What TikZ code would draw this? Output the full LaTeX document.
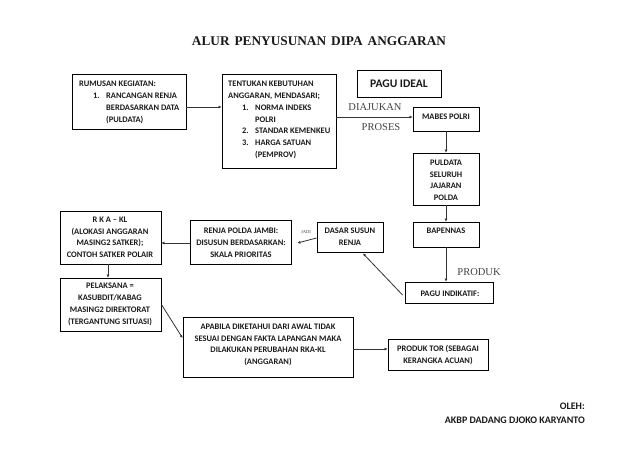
\documentclass[tikz,border=0pt]{standalone}
\usepackage{fontspec}
\setmainfont{Carlito}
\newfontfamily\seriffam{Liberation Serif}
\usetikzlibrary{arrows.meta}
\tikzset{
  boxnode/.style={draw=black,line width=0.9pt,rectangle,inner sep=0pt,minimum width=#1},
  tx/.style={inner sep=0pt,font=\fontsize{8.45}{11.9}\selectfont\bfseries,text=black!90},
  ctr/.style={tx,align=center,anchor=north,yshift=-4pt},
  lft/.style={tx,align=left,anchor=north west,yshift=-4pt},
  ser/.style={inner sep=0pt,font=\fontsize{10.5}{12}\selectfont\seriffam,text=black!75},
  link/.style={draw=black!80,line width=0.8pt,-{Latex[length=3pt,width=3pt]}}
}
\newcommand{\bx}[5]{\node[boxnode=#4-#2 pt,minimum height=#5-#3 pt] (#1) at ({(#2+#4)/2},{(#3+#5)/2}) {};}
\begin{document}
\begin{tikzpicture}[x=1pt,y=-1pt]
\useasboundingbox (0,0) rectangle (638,452);
\bx{rumusan}{72}{74}{186}{129}
\bx{tentukan}{222}{74}{336}{168}
\bx{ideal}{357}{70}{441}{97}
\bx{mabes}{413}{107}{479}{131}
\bx{puldata}{413}{153}{479}{205}
\bx{bapennas}{413}{222}{479}{247}
\bx{indikatif}{405}{282}{493}{303}
\bx{dasar}{317}{222}{383}{252}
\bx{renja}{190}{220}{291}{264}
\bx{rka}{60}{211}{161}{264}
\bx{pelaksana}{60}{278}{161}{331}
\bx{apabila}{183}{317}{353}{377}
\bx{produktor}{388}{339}{488}{370}

\node[inner sep=0pt,font=\fontsize{13.3}{14}\selectfont\seriffam\bfseries,text=black!90] (title) at (319,41) {ALUR\hspace{5pt}PENYUSUNAN\hspace{5pt}DIPA\hspace{5pt}ANGGARAN};

\node[lft] (t1) at (79,76.5) {RUMUSAN KEGIATAN:};
\node[lft] (t1a) at (93,88.5) {1.};
\node[lft] (t1b) at (106,88.5) {RANCANGAN RENJA\\BERDASARKAN DATA\\(PULDATA)};
\node[lft] (t2) at (228,76.5) {TENTUKAN KEBUTUHAN\\ANGGARAN, MENDASARI;};
\node[lft] (t2a) at (242,100.5) {1.};
\node[lft] (t2b) at (255,100.5) {NORMA INDEKS\\POLRI};
\node[lft] (t2c) at (242,124) {2.};
\node[lft] (t2d) at (255,124) {STANDAR KEMENKEU};
\node[lft] (t2e) at (242,135.5) {3.};
\node[lft] (t2f) at (255,135.5) {HARGA SATUAN\\(PEMPROV)};
\node[inner sep=0pt,font=\fontsize{11.6}{12}\selectfont\bfseries,text=black!90] (t3) at (399,84) {PAGU IDEAL};
\node[ctr] (t4) at (446,109.5) {MABES POLRI};
\node[ctr] (t5) at (446,155.5) {PULDATA\\SELURUH\\JAJARAN\\POLDA};
\node[ctr] (t6) at (446,224) {BAPENNAS};
\node[ctr] (t7) at (450,287) {PAGU INDIKATIF:};
\node[ctr] (t8) at (350,224) {DASAR SUSUN\\RENJA};
\node[ctr] (t9) at (241,223.5) {RENJA POLDA JAMBI:\\DISUSUN BERDASARKAN:\\SKALA PRIORITAS};
\node[ctr] (t10) at (110,212.5) {R K A -- KL\\(ALOKASI ANGGARAN\\MASING2 SATKER);\\CONTOH SATKER POLAIR};
\node[ctr] (t11) at (110,279) {PELAKSANA =\\KASUBDIT/KABAG\\MASING2 DIREKTORAT\\(TERGANTUNG SITUASI)};
\node[ctr] (t12) at (268,319.5) {APABILA DIKETAHUI DARI AWAL TIDAK\\SESUAI DENGAN FAKTA LAPANGAN MAKA\\DILAKUKAN PERUBAHAN RKA-KL\\(ANGGARAN)};
\node[ctr] (t13) at (438,341.5) {PRODUK TOR (SEBAGAI\\KERANGKA ACUAN)};
\node[inner sep=0pt,font=\fontsize{10}{14}\selectfont\bfseries,text=black!90,align=right,anchor=north east] (t14) at (585,403) {OLEH:\\AKBP DADANG DJOKO KARYANTO};

\node[ser] (diajukan) at (375,107) {DIAJUKAN};
\node[ser] (proses) at (381,127) {PROSES};
\node[ser] (produk) at (479,272) {PRODUK};
\node[inner sep=0pt,font=\fontsize{4.5}{5}\selectfont\seriffam,text=black!75] (jadi) at (306,232) {JADI};

\draw[link] ([yshift=-5.5pt]rumusan.east) -- ([yshift=14pt]tentukan.west);
\draw[link] ([yshift=4pt]tentukan.east) -- ([yshift=2pt]mabes.west);
\draw[link] (mabes.south) -- (puldata.north);
\draw[link] (puldata.south) -- (bapennas.north);
\draw[link] (bapennas.south) -- (bapennas.south |- indikatif.north);
\draw[link] ([xshift=-2pt,yshift=-2.5pt]indikatif.west) -- ([xshift=13pt,yshift=-1pt]dasar.south);
\draw[link] ([yshift=-1pt]dasar.west) -- ([xshift=6pt,yshift=-1pt]renja.east);
\draw[link] ([yshift=-1pt]renja.west) -- ([yshift=-1pt]renja.west -| rka.east);
\draw[link] ([xshift=-2.5pt]rka.south) -- ([xshift=-2.5pt]pelaksana.north);
\draw[link] (pelaksana.east) -- ([yshift=9pt]apabila.west);
\draw[link] ([yshift=-2pt]apabila.east) -- ([yshift=5.5pt]produktor.west);
\end{tikzpicture}
\end{document}
